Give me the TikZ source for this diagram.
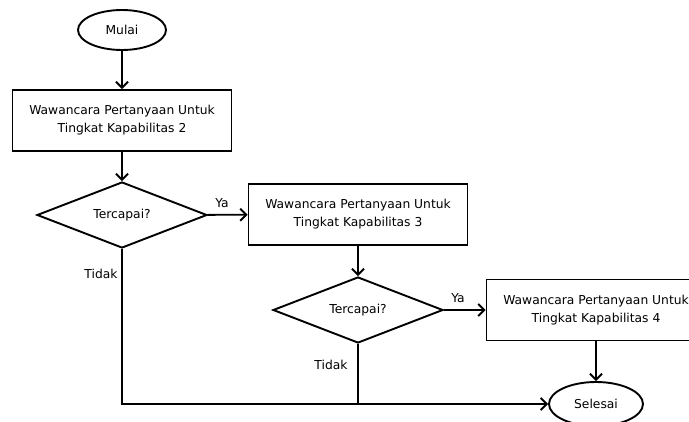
\documentclass[tikz,border=0pt]{standalone}
\usepackage{fontspec}
\setmainfont{DejaVu Sans}
\usepackage{tikz}
\usetikzlibrary{shapes}
\usetikzlibrary{shapes.geometric}
\usetikzlibrary{arrows.meta}
\usetikzlibrary{positioning}
\usetikzlibrary{calc}

\begin{document}
\begin{tikzpicture}[
        x = 1pt, y = -1pt,
        line width = 1.9pt,
        >={Straight Barb[length=6pt, width=12pt]},
        font = \fontsize{12.3}{18}\selectfont,
        terminal/.style = {draw, ellipse, minimum width = 88pt, minimum height = 40pt, inner sep = 0pt},
        proses/.style = {draw, rectangle, minimum width = 219pt, minimum height = 61pt, align = center, inner sep = 2pt},
        keputusan/.style = {draw, diamond, aspect = 2.6, minimum width = 170pt, minimum height = 66pt, inner sep = 0pt},
        label/.style = {inner sep = 1pt},
        ]
        \useasboundingbox (0,0) rectangle (689,422);

        \node[terminal] (mulai) at (122,30) {Mulai};
        \node[proses] (wawancara2) at (122,120.5) {Wawancara Pertanyaan Untuk\\Tingkat Kapabilitas 2};
        \node[keputusan] (cek2) at (122,215) {Tercapai?};
        \node[proses] (wawancara3) at (358,214.5) {Wawancara Pertanyaan Untuk\\Tingkat Kapabilitas 3};
        \node[keputusan] (cek3) at (358,310) {Tercapai?};
        \node[proses] (wawancara4) at (596,310) {Wawancara Pertanyaan Untuk\\Tingkat Kapabilitas 4};
        \node[terminal, minimum width = 94pt, minimum height = 44pt] (selesai) at (596,404) {Selesai};

        % label ya / tidak
        \node[label] (ya2) at (222,203) {Ya};
        \node[label] (tidak2) at (101,274) {Tidak};
        \node[label] (ya3) at (458,298) {Ya};
        \node[label] (tidak3) at (331,365) {Tidak};

        \coordinate (gabung) at (cek3.south |- selesai.west);

        \draw[->] (mulai) -- (wawancara2);
        \draw[->] (wawancara2) -- (cek2);
        \draw[->] (cek2) -- (wawancara3);
        \draw[->] (wawancara3) -- (cek3);
        \draw[->] (cek3) -- (wawancara4);
        \draw[->] (wawancara4) -- (selesai);
        \draw[->] (cek2.south) |- (selesai.west);
        \draw (cek3.south) -- (gabung);
    \end{tikzpicture}
\end{document}
